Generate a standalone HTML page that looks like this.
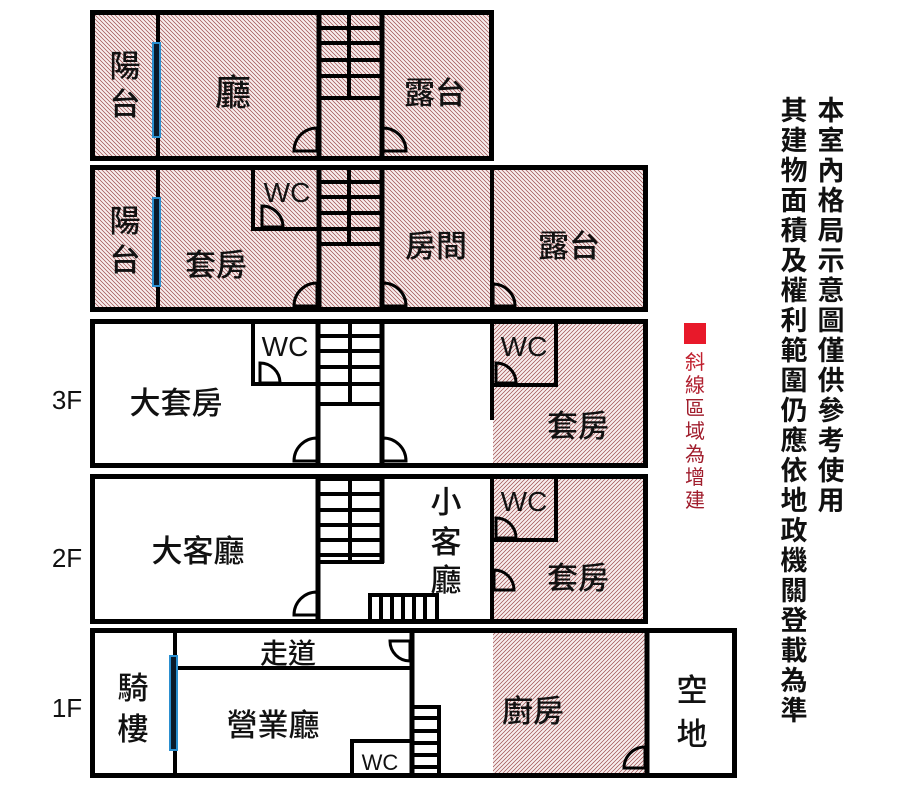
<!DOCTYPE html>
<html><head><meta charset="utf-8"><style>
body{margin:0;background:#fff;}
svg{display:block;}
text{font-family:"Liberation Sans","Noto Sans CJK TC",sans-serif;fill:#111;}
</style></head><body>
<svg width="918" height="796" viewBox="0 0 918 796" xmlns="http://www.w3.org/2000/svg">
<defs>
<pattern id="hb" width="4" height="4" patternUnits="userSpaceOnUse">
<rect width="4" height="4" fill="#f8eeee"/>
<path d="M-1,-1 L5,5 M-1,3 L1,5 M3,-1 L5,1" stroke="#9a4a4a" stroke-width="0.7"/>
</pattern>
<pattern id="hf" width="4" height="4" patternUnits="userSpaceOnUse">
<rect width="4" height="4" fill="#f8eeee"/>
<path d="M-1,5 L5,-1 M-1,1 L1,-1 M3,5 L5,3" stroke="#9a4a4a" stroke-width="0.7"/>
</pattern>
</defs>

<rect x="92" y="12" width="400" height="146" fill="url(#hb)"/>
<rect x="92" y="167" width="554" height="143" fill="url(#hb)"/>
<rect x="493" y="322" width="152" height="143" fill="url(#hf)"/>
<rect x="493" y="477" width="152" height="143" fill="url(#hf)"/>
<rect x="493" y="632" width="152" height="144" fill="url(#hf)"/>

<g fill="none" stroke="#000">
<rect x="92.5" y="12.5" width="399" height="146" stroke-width="5"/>
<line x1="158" y1="12" x2="158" y2="158" stroke-width="4"/>
<line x1="319" y1="12" x2="319" y2="158" stroke-width="5"/>
<line x1="382" y1="12" x2="382" y2="158" stroke-width="5"/>
<line x1="349" y1="12" x2="349" y2="98" stroke-width="4"/>
<g stroke-width="4"><line x1="319" y1="28" x2="382" y2="28"/><line x1="319" y1="43" x2="382" y2="43"/><line x1="319" y1="60" x2="382" y2="60"/><line x1="319" y1="76" x2="382" y2="76"/><line x1="319" y1="98" x2="382" y2="98"/></g>
<rect x="92.5" y="167.5" width="553" height="142" stroke-width="5"/>
<line x1="158" y1="167" x2="158" y2="310" stroke-width="4"/>
<line x1="319" y1="167" x2="319" y2="310" stroke-width="5"/>
<line x1="382" y1="167" x2="382" y2="310" stroke-width="5"/>
<line x1="492" y1="167" x2="492" y2="310" stroke-width="4"/>
<line x1="349" y1="167" x2="349" y2="245" stroke-width="4"/>
<g stroke-width="4"><line x1="319" y1="182" x2="382" y2="182"/><line x1="319" y1="197" x2="382" y2="197"/><line x1="319" y1="213" x2="382" y2="213"/><line x1="319" y1="229" x2="382" y2="229"/><line x1="319" y1="244" x2="382" y2="244"/></g>
<polyline points="253,167 253,229 319,229" stroke-width="4"/>
<rect x="92.5" y="321.5" width="553" height="144" stroke-width="5"/>
<line x1="318" y1="321" x2="318" y2="466" stroke-width="5"/>
<line x1="382" y1="321" x2="382" y2="466" stroke-width="5"/>
<line x1="350" y1="321" x2="350" y2="405" stroke-width="4"/>
<g stroke-width="4"><line x1="318" y1="336" x2="382" y2="336"/><line x1="318" y1="351" x2="382" y2="351"/><line x1="318" y1="367" x2="382" y2="367"/><line x1="318" y1="384" x2="382" y2="384"/><line x1="318" y1="404" x2="382" y2="404"/></g>
<polyline points="253,321 253,384 318,384" stroke-width="4"/>
<line x1="492" y1="321" x2="492" y2="420" stroke-width="4"/>
<polyline points="492,385 556,385 556,321" stroke-width="4"/>
<rect x="92.5" y="476.5" width="553" height="145" stroke-width="5"/>
<line x1="318" y1="476" x2="318" y2="622" stroke-width="5"/>
<line x1="382" y1="476" x2="382" y2="563" stroke-width="5"/>
<line x1="350" y1="476" x2="350" y2="562" stroke-width="4"/>
<g stroke-width="4"><line x1="318" y1="479" x2="382" y2="479"/><line x1="318" y1="494" x2="382" y2="494"/><line x1="318" y1="510" x2="382" y2="510"/><line x1="318" y1="525" x2="382" y2="525"/><line x1="318" y1="540" x2="382" y2="540"/><line x1="318" y1="555" x2="382" y2="555"/><line x1="318" y1="562" x2="384" y2="562"/></g>
<line x1="492" y1="476" x2="492" y2="622" stroke-width="4"/>
<polyline points="492,540 556,540 556,476" stroke-width="4"/>
<rect x="370" y="595" width="67" height="26" stroke-width="4"/>
<g stroke-width="4"><line x1="381" y1="595" x2="381" y2="621"/><line x1="392" y1="595" x2="392" y2="621"/><line x1="403" y1="595" x2="403" y2="621"/><line x1="414" y1="595" x2="414" y2="621"/><line x1="425" y1="595" x2="425" y2="621"/></g>
<rect x="92.5" y="630.5" width="642" height="145" stroke-width="5"/>
<line x1="175" y1="630" x2="175" y2="776" stroke-width="4"/>
<line x1="412" y1="630" x2="412" y2="776" stroke-width="5"/>
<line x1="175" y1="668" x2="412" y2="668" stroke-width="4"/>
<line x1="647" y1="630" x2="647" y2="776" stroke-width="5"/>
<polyline points="352,776 352,741 412,741" stroke-width="4"/>
<polyline points="412,707 439,707 439,776" stroke-width="4"/>
<g stroke-width="4"><line x1="412" y1="718" x2="439" y2="718"/><line x1="412" y1="731" x2="439" y2="731"/><line x1="412" y1="743" x2="439" y2="743"/><line x1="412" y1="755" x2="439" y2="755"/><line x1="412" y1="767" x2="439" y2="767"/></g>

<g stroke-width="3">
<path d="M294,151 A23,23 0 0 1 317,128 L317,151 Z"/>
<path d="M406,151 A23,23 0 0 0 383,128 L383,151 Z"/>
<path d="M294,306 A23,23 0 0 1 317,283 L317,306 Z"/>
<path d="M406,306 A23,23 0 0 0 383,283 L383,306 Z"/>
<path d="M515,306 A22,22 0 0 0 493,284 L493,306 Z"/>
<path d="M283,227 A21,21 0 0 0 262,206 L262,227 Z"/>
<path d="M294,461 A23,23 0 0 1 317,438 L317,461 Z"/>
<path d="M406,461 A23,23 0 0 0 383,438 L383,461 Z"/>
<path d="M280,383 A20,20 0 0 0 260,363 L260,383 Z"/>
<path d="M516,383 A20,20 0 0 0 496,363 L496,383 Z"/>
<path d="M294,615 A23,23 0 0 1 317,592 L317,615 Z"/>
<path d="M516,538 A20,20 0 0 0 496,518 L496,538 Z"/>
<path d="M514,590 A20,20 0 0 0 494,570 L494,590 Z"/>
<path d="M390,641 A20,20 0 0 0 410,661 L410,641 Z"/>
<path d="M624,768 A21,21 0 0 1 645,747 L645,768 Z"/>
</g>
</g>

<g fill="#0a1a2a" stroke="#2a8fd0" stroke-width="2">
<rect x="153" y="43" width="7" height="94"/>
<rect x="153" y="198" width="7" height="88"/>
<rect x="170" y="656" width="7" height="94"/>
</g>

<g font-size="31" text-anchor="middle" font-weight="500">
<text x="125" y="77">陽</text><text x="125" y="115">台</text>
<text x="233" y="105" font-size="36">廳</text>
<text x="435" y="104">露台</text>
<text x="125" y="232">陽</text><text x="125" y="271">台</text>
<text x="216" y="276">套房</text>
<text x="436" y="257">房間</text>
<text x="569" y="257">露台</text>
<text x="176" y="414">大套房</text>
<text x="578" y="437">套房</text>
<text x="198" y="562">大客廳</text>
<text x="446" y="513">小</text><text x="446" y="553">客</text><text x="446" y="591">廳</text>
<text x="578" y="589">套房</text>
<text x="133" y="699">騎</text><text x="133" y="740">樓</text>
<text x="288" y="663" font-size="28">走道</text>
<text x="273" y="736">營業廳</text>
<text x="533" y="722">廚房</text>
<text x="692" y="701">空</text><text x="692" y="745">地</text>
</g>
<g font-size="28" text-anchor="middle">
<text x="287" y="202">WC</text>
<text x="285" y="356">WC</text>
<text x="524" y="356">WC</text>
<text x="524" y="511">WC</text>
<text x="380" y="770" font-size="22">WC</text>
</g>
<g font-size="26" text-anchor="middle">
<text x="67" y="409">3F</text>
<text x="67" y="567">2F</text>
<text x="67" y="717">1F</text>
</g>

<rect x="684" y="323" width="22" height="21" fill="#e8192a"/>
<g font-size="20" text-anchor="middle">
<text x="695" y="369" style="fill:#c0202e">斜</text>
<text x="695" y="392" style="fill:#b02030">線</text>
<text x="695" y="415" style="fill:#a01d2c">區</text>
<text x="695" y="438" style="fill:#a01d2c">域</text>
<text x="695" y="461" style="fill:#a01d2c">為</text>
<text x="695" y="484" style="fill:#a01d2c">增</text>
<text x="695" y="507" style="fill:#a01d2c">建</text>
</g>

<g font-size="27" text-anchor="middle" font-weight="bold">
<text x="831" y="120">本</text><text x="831" y="150">室</text><text x="831" y="180">內</text><text x="831" y="210">格</text><text x="831" y="240">局</text><text x="831" y="270">示</text><text x="831" y="300">意</text><text x="831" y="330">圖</text><text x="831" y="360">僅</text><text x="831" y="390">供</text><text x="831" y="420">參</text><text x="831" y="450">考</text><text x="831" y="480">使</text><text x="831" y="510">用</text>
<text x="794" y="120">其</text><text x="794" y="150">建</text><text x="794" y="180">物</text><text x="794" y="210">面</text><text x="794" y="240">積</text><text x="794" y="270">及</text><text x="794" y="300">權</text><text x="794" y="330">利</text><text x="794" y="360">範</text><text x="794" y="390">圍</text><text x="794" y="420">仍</text><text x="794" y="450">應</text><text x="794" y="480">依</text><text x="794" y="510">地</text><text x="794" y="540">政</text><text x="794" y="570">機</text><text x="794" y="600">關</text><text x="794" y="630">登</text><text x="794" y="660">載</text><text x="794" y="690">為</text><text x="794" y="720">準</text>
</g>
</svg>
</body></html>
